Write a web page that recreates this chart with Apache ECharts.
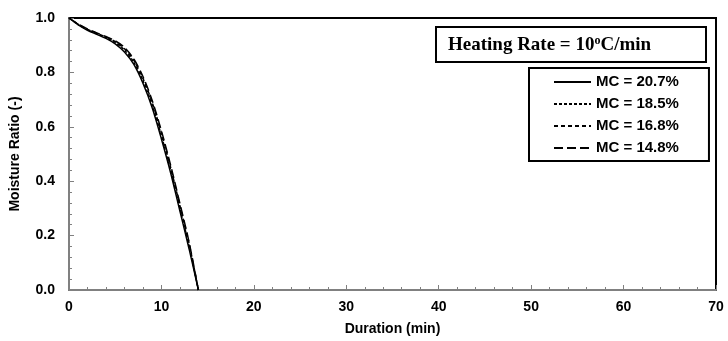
<!DOCTYPE html>
<html><head><meta charset="utf-8">
<script src="https://cdn.jsdelivr.net/npm/echarts@6/dist/echarts.min.js"></script>
<style>html,body{margin:0;padding:0;background:#fff}#c{width:728px;height:341px}</style>
</head><body><div id="c"></div>
<script>
const times = [0,1,2,3,4,5,6,7,8,9,10,11,12,13,14];
const mc207 = [1.0,0.975,0.955,0.94,0.925,0.905,0.875,0.83,0.76,0.67,0.555,0.43,0.29,0.15,0.0];
const mc185 = [1.0,0.976,0.957,0.942,0.928,0.91,0.882,0.838,0.77,0.68,0.567,0.44,0.30,0.16,0.0];
const mc168 = [1.0,0.977,0.958,0.944,0.93,0.913,0.887,0.845,0.778,0.69,0.577,0.45,0.31,0.17,0.0];
const mc148 = [1.0,0.978,0.96,0.945,0.932,0.916,0.892,0.85,0.785,0.697,0.585,0.458,0.318,0.175,0.0];
const names = ['MC = 20.7%','MC = 18.5%','MC = 16.8%','MC = 14.8%'];
const dashes = ['solid',[3,2],[4,3],[9,4]];
const allData = [mc207, mc185, mc168, mc148];

const chart = echarts.init(document.getElementById('c'), null, {renderer:'canvas'});
const font = 'Liberation Sans, Arial, sans-serif';
chart.setOption({
  animation:false,
  grid:{left:68,right:12,top:18,bottom:50,show:true,borderColor:'#000',borderWidth:2},
  xAxis:{type:'value',min:0,max:70,interval:10,
    name:'Duration (min)',nameLocation:'middle',nameGap:32,
    nameTextStyle:{fontFamily:font,fontWeight:'bold',fontSize:14,color:'#000'},
    axisLine:{lineStyle:{color:'#808080',width:2}},
    axisTick:{inside:true,length:5,lineStyle:{color:'#808080'}},
    minorTick:{show:true,splitNumber:5,length:3,lineStyle:{color:'#808080'}},
    splitLine:{show:false},
    axisLabel:{fontFamily:font,fontWeight:'bold',fontSize:14,color:'#000',margin:10}},
  yAxis:{type:'value',min:0,max:1,interval:0.2,
    name:'Moisture Ratio (-)',nameLocation:'middle',nameGap:47,
    nameTextStyle:{fontFamily:font,fontWeight:'bold',fontSize:14,color:'#000'},
    axisLine:{lineStyle:{color:'#808080',width:2}},
    axisTick:{inside:true,length:5,lineStyle:{color:'#808080'}},
    minorTick:{show:true,splitNumber:5,length:3,lineStyle:{color:'#808080'}},
    splitLine:{show:false},
    axisLabel:{fontFamily:font,fontWeight:'bold',fontSize:14,color:'#000',margin:14,
      formatter:v=>v.toFixed(1)}},
  legend:{orient:'vertical',left:529,top:68,itemWidth:37,itemHeight:12,itemGap:4,itemTextGap:8,
    padding:[5,30,4,24],borderColor:'#000',borderWidth:2,
    itemStyle:{opacity:0},
    textStyle:{fontFamily:font,fontWeight:'bold',fontSize:15,color:'#000',lineHeight:18},
    data:names},
  series: allData.map((d,i)=>({
    name:names[i],type:'line',smooth:0.3,symbol:'none',
    itemStyle:{color:'#000'},
    lineStyle:{color:'#000',width:1.5,type:dashes[i]},
    data: times.map((t,j)=>[t,d[j]])
  })),
  graphic:[
    {type:'rect',shape:{x:436,y:27,width:270,height:35},style:{fill:'#fff',stroke:'#000',lineWidth:2}},
    {type:'text',x:448,y:45,style:{
      text:'{a|Heating Rate = 10}{s|o}{a|C/min}',verticalAlign:'middle',
      rich:{a:{fontFamily:'Liberation Serif, Times New Roman, serif',fontWeight:'bold',fontSize:19,fill:'#000'},
            s:{fontFamily:'Liberation Serif, Times New Roman, serif',fontWeight:'bold',fontSize:12,fill:'#000',verticalAlign:'top',padding:[0,0,8,0]}}}}
  ]
});
</script></body></html>
